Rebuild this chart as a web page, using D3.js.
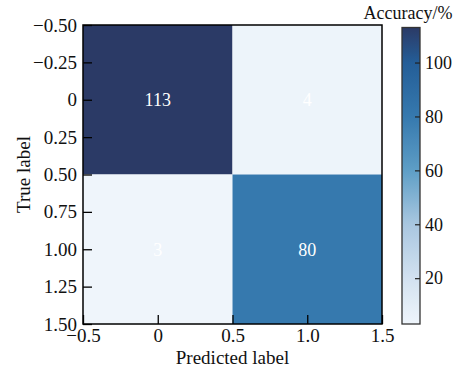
<!DOCTYPE html>
<html><head><meta charset="utf-8">
<script src="https://cdn.jsdelivr.net/npm/d3@7"></script>
<style>html,body{margin:0;padding:0;background:#fff;}svg{display:block;}</style>
</head><body>
<svg id="c" width="469" height="371"></svg>
<script>
// ---- data ----
const trueLabels = [0, 1];
const predictedLabels = [0, 1];
const counts = [
  [113, 4],
  [3, 80]
];
const xTicks = [-0.5, 0, 0.5, 1.0, 1.5];
const xTickLabels = ["\u22120.5", "0", "0.5", "1.0", "1.5"];
const yTicks = [-0.5, -0.25, 0, 0.25, 0.5, 0.75, 1.0, 1.25, 1.5];
const yTickLabels = ["\u22120.50", "\u22120.25", "0", "0.25", "0.50", "0.75", "1.00", "1.25", "1.50"];
const cbTicks = [20, 40, 60, 80, 100];
const colorStops = ["#eff5fb", "#d2e1f0", "#a9c7e0", "#5e9ec6", "#3679ae", "#245e98", "#2b3a66"];
const colorStopPos = [0, 0.155, 0.336, 0.518, 0.7, 0.88, 1];

// ---- layout ----
const svg = d3.select("#c");
const font = "'Liberation Serif','Times New Roman',serif";
const L = 83, R = 382, T = 25, B = 324;
const cbL = 402, cbR = 420, cbT = 27.5, cbB = 324;

const vmin = d3.min(counts.flat()), vmax = d3.max(counts.flat());
const x = d3.scaleLinear().domain([-0.5, 1.5]).range([L, R]);
const y = d3.scaleLinear().domain([-0.5, 1.5]).range([T, B]);
const tScale = d3.scaleLinear().domain([vmin, vmax]).range([0, 1]);
const interp = d3.scaleLinear().domain(colorStopPos).range(colorStops).interpolate(d3.interpolateRgb);
const color = v => interp(tScale(v));

// cells
const cells = [];
trueLabels.forEach((t, i) => predictedLabels.forEach((p, j) => cells.push({t, p, v: counts[i][j]})));
svg.append("g").selectAll("rect").data(cells).join("rect")
  .attr("x", d => x(d.p - 0.5)).attr("y", d => y(d.t - 0.5))
  .attr("width", d => x(d.p + 0.5) - x(d.p - 0.5))
  .attr("height", d => y(d.t + 0.5) - y(d.t - 0.5))
  .attr("fill", d => color(d.v));
svg.append("g").selectAll("text").data(cells).join("text")
  .attr("x", d => x(d.p)).attr("y", d => y(d.t))
  .attr("dy", "0.35em").attr("text-anchor", "middle")
  .attr("font-family", font).attr("font-size", 18).attr("fill", "#fff")
  .text(d => d.v);

// axes
const xAxis = d3.axisBottom(x).tickValues(xTicks).tickFormat((d, i) => xTickLabels[i]).tickSizeInner(-9).tickSizeOuter(0).tickPadding(5);
const gx = svg.append("g").attr("transform", `translate(0,${B})`).call(xAxis);
const yAxis = d3.axisLeft(y).tickValues(yTicks).tickFormat((d, i) => yTickLabels[i]).tickSizeInner(-9).tickSizeOuter(0).tickPadding(6);
const gy = svg.append("g").attr("transform", `translate(${L},0)`).call(yAxis);
[gx, gy].forEach(g => {
  g.select(".domain").remove();
  g.selectAll("line").attr("stroke", "#000").attr("stroke-width", 1.3);
  g.selectAll("text").attr("font-family", font).attr("font-size", 19).attr("fill", "#111");
});
gx.selectAll("text").attr("dy", "0.68em");
// frame
svg.append("rect").attr("x", L).attr("y", T).attr("width", R - L).attr("height", B - T)
  .attr("fill", "none").attr("stroke", "#000").attr("stroke-width", 1.5);

svg.append("text").attr("x", (L + R) / 2).attr("y", 364).attr("text-anchor", "middle")
  .attr("font-family", font).attr("font-size", 19).attr("fill", "#111").text("Predicted label");
svg.append("text").attr("transform", `translate(30,${(T + B) / 2}) rotate(-90)`).attr("text-anchor", "middle")
  .attr("font-family", font).attr("font-size", 19).attr("fill", "#111").text("True label");

// colorbar
const cb = d3.scaleLinear().domain([vmin, vmax]).range([cbB, cbT]);
const defs = svg.append("defs");
const grad = defs.append("linearGradient").attr("id", "g").attr("x1", 0).attr("y1", 1).attr("x2", 0).attr("y2", 0);
d3.range(0, 1.0001, 0.02).forEach(t => grad.append("stop").attr("offset", t).attr("stop-color", interp(t)));
svg.append("rect").attr("x", cbL).attr("y", cbT).attr("width", cbR - cbL).attr("height", cbB - cbT)
  .attr("fill", "url(#g)").attr("stroke", "#333").attr("stroke-width", 1.3);
const cbAxis = d3.axisRight(cb).tickValues(cbTicks).tickSizeInner(-5).tickSizeOuter(0).tickPadding(5);
const gc = svg.append("g").attr("transform", `translate(${cbR},0)`).call(cbAxis);
gc.select(".domain").remove();
gc.selectAll("line").attr("stroke", "#222").attr("stroke-width", 1.2);
gc.selectAll("text").attr("font-family", font).attr("font-size", 18).attr("fill", "#111");
svg.append("text").attr("x", 408).attr("y", 19).attr("text-anchor", "middle")
  .attr("font-family", font).attr("font-size", 18).attr("fill", "#111").text("Accuracy/%");
</script>
</body></html>
